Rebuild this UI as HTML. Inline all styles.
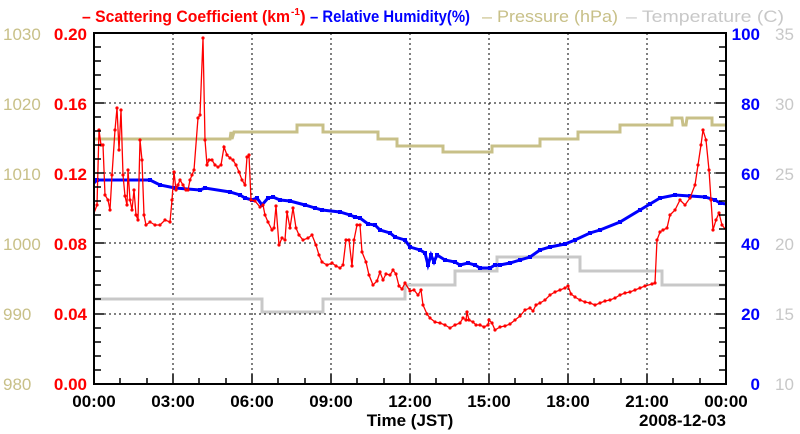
<!DOCTYPE html>
<html><head><meta charset="utf-8"><style>
html,body{margin:0;padding:0;background:#fff;}
svg{display:block;font-family:"Liberation Sans",Arial,sans-serif;}
</style></head><body>
<svg width="800" height="434" viewBox="0 0 800 434">
<defs>
<marker id="dot" markerWidth="4" markerHeight="4" refX="2" refY="2" markerUnits="userSpaceOnUse"><circle cx="2" cy="2" r="1.6" fill="#ff0000"/></marker>
<marker id="sq" markerWidth="4" markerHeight="4" refX="2" refY="2" markerUnits="userSpaceOnUse"><rect x="0" y="0" width="4" height="4" fill="#0000ff"/></marker>
</defs>
<g stroke="#000" stroke-width="1" stroke-dasharray="2,3">
<line x1="173" y1="33" x2="173" y2="384"/><line x1="252" y1="33" x2="252" y2="384"/>
<line x1="331" y1="33" x2="331" y2="384"/><line x1="410" y1="33" x2="410" y2="384"/>
<line x1="489" y1="33" x2="489" y2="384"/><line x1="568" y1="33" x2="568" y2="384"/>
<line x1="647" y1="33" x2="647" y2="384"/>
<line x1="94" y1="103" x2="726" y2="103"/><line x1="94" y1="173" x2="726" y2="173"/>
<line x1="94" y1="243" x2="726" y2="243"/><line x1="94" y1="314" x2="726" y2="314"/>
</g>
<polyline fill="none" stroke="#c8c8c8" stroke-width="3" points="94,299 262,299 262,312 323,312 323,299 405,299 405,285 455,285 455,271 497,271 497,257 580,257 580,271 662,271 662,285 726,285"/>
<polyline fill="none" stroke="#c8c088" stroke-width="3" points="94,139 230,139 231,132 232,139 234,132 297,132 297,125 323,125 323,132 378,132 378,139 397,139 397,146 443,146 443,152 492,152 492,146 540,146 540,139 578,139 578,132 620,132 620,125 672,125 672,118 682,118 683,125 686,125 687,118 712,118 712,125 726,125"/>
<polyline fill="none" stroke="#0000ff" stroke-width="3" marker-mid="url(#sq)" points="94,183 97,180 150,180 160,185 175,188 200,190 205,188 230,192 240,195 245,198 252,200 257,198 262,205 268,198 273,197 280,200 290,201 305,205 315,208 322,210 340,212 350,215 355,217 360,218 368,224 375,225 380,230 390,233 395,237 405,240 410,247 420,250 425,253 428,265 431,255 434,262 437,255 445,260 455,262 460,265 468,263 475,265 480,268 490,268 495,265 500,265 510,263 520,260 530,257 540,250 550,247 565,244 575,240 590,233 600,230 620,222 640,210 650,204 660,198 675,195 690,196 705,197 715,200 720,203 726,204"/>
<polyline fill="none" stroke="#ff0000" stroke-width="1.3" marker-mid="url(#dot)" points="94,213 97,205 99,130 101,145 103,145 105,195 108,200 110,210 112,175 115,130 117,108 119,150 121,110 123,175 125,196 127,205 128,170 130,200 132,210 134,190 136,215 138,220 140,140 142,160 144,215 146,225 150,222 155,225 160,225 165,220 170,222 172,200 174,172 176,190 178,185 180,180 183,185 186,190 188,190 190,180 192,175 194,170 198,118 200,115 203,38 205,140 207,165 209,160 212,160 215,165 218,167 221,165 224,147 227,155 230,158 233,160 236,165 239,172 242,180 245,185 247,157 249,155 251,200 255,201 260,207 263,205 265,215 268,222 272,230 274,228 276,206 279,245 282,238 285,240 287,212 290,228 293,208 296,228 299,235 303,240 308,238 312,235 316,245 319,255 322,262 327,265 332,263 336,266 340,268 343,265 346,240 349,240 352,266 354,240 357,225 360,225 362,252 366,262 369,275 373,285 377,281 380,272 383,280 386,274 390,275 393,270 396,274 399,286 402,289 405,283 410,291 414,290 418,295 421,290 423,305 427,314 430,318 435,322 440,323 445,325 450,328 455,325 460,323 463,318 466,320 467,312 469,320 473,322 476,325 480,325 484,327 488,325 489,320 492,323 495,330 500,327 505,326 510,324 515,320 520,316 525,310 530,308 533,311 536,305 540,303 545,300 550,295 555,292 560,290 565,288 568,286 571,294 575,297 580,300 585,302 590,303 595,305 600,303 605,301 610,300 615,298 620,295 625,293 630,292 635,290 640,288 645,286 652,284 655,283 657,240 660,232 663,230 667,228 670,215 675,210 680,200 685,205 690,198 695,185 698,165 701,145 703,130 706,140 709,170 711,200 713,230 716,220 719,213 722,225 726,230"/>
<rect x="94" y="33" width="632" height="351" fill="none" stroke="#000" stroke-width="2"/>
<g stroke="#000" stroke-width="1.5">
<path d="M94,47h7M94,61h7M94,75h7M94,89h7M94,103h10M94,117h7M94,131h7M94,145h7M94,159h7M94,173h10M94,187h7M94,201h7M94,215h7M94,229h7M94,243h10M94,257h7M94,271h7M94,285h7M94,299h7M94,314h10M94,328h7M94,342h7M94,356h7M94,370h7"/>
<path d="M726,47h-7M726,61h-7M726,75h-7M726,89h-7M726,103h-10M726,117h-7M726,131h-7M726,145h-7M726,159h-7M726,173h-10M726,187h-7M726,201h-7M726,215h-7M726,229h-7M726,243h-10M726,257h-7M726,271h-7M726,285h-7M726,299h-7M726,314h-10M726,328h-7M726,342h-7M726,356h-7M726,370h-7"/>
<path d="M120,384v-6M147,384v-6M173,384v-10M199,384v-6M226,384v-6M252,384v-10M278,384v-6M305,384v-6M331,384v-10M357,384v-6M384,384v-6M410,384v-10M436,384v-6M463,384v-6M489,384v-10M515,384v-6M542,384v-6M568,384v-10M594,384v-6M621,384v-6M647,384v-10M673,384v-6M700,384v-6"/>
</g>
<g font-size="17" font-weight="bold" fill="#ff0000" text-anchor="end">
<text x="87" y="40">0.20</text><text x="87" y="110">0.16</text><text x="87" y="180">0.12</text><text x="87" y="250">0.08</text><text x="87" y="320">0.04</text><text x="87" y="390">0.00</text>
</g>
<g font-size="17" fill="#c8c088" text-anchor="start">
<text x="3" y="40">1030</text><text x="3" y="110">1020</text><text x="3" y="180">1010</text><text x="3" y="250">1000</text><text x="3" y="320">990</text><text x="3" y="390">980</text>
</g>
<g font-size="17" font-weight="bold" fill="#0000ff" text-anchor="end">
<text x="760" y="40">100</text><text x="760" y="110">80</text><text x="760" y="180">60</text><text x="760" y="250">40</text><text x="760" y="320">20</text><text x="760" y="390">0</text>
</g>
<g font-size="17" fill="#c8c8c8" text-anchor="start">
<text x="775" y="40">35</text><text x="775" y="110">30</text><text x="775" y="180">25</text><text x="775" y="250">20</text><text x="775" y="320">15</text><text x="775" y="390">10</text>
</g>
<g font-size="17" font-weight="bold" fill="#000" text-anchor="middle">
<text x="94" y="407">00:00</text><text x="173" y="407">03:00</text><text x="252" y="407">06:00</text><text x="331" y="407">09:00</text><text x="410" y="407">12:00</text><text x="489" y="407">15:00</text><text x="568" y="407">18:00</text><text x="647" y="407">21:00</text><text x="726" y="407">00:00</text>
<text x="410" y="426">Time (JST)</text>
<text x="726" y="426" text-anchor="end">2008-12-03</text>
</g>
<g font-size="17" font-weight="bold" fill="#ff0000">
<text x="82" y="22" textLength="208" lengthAdjust="spacingAndGlyphs">– Scattering Coefficient (km</text>
<text x="291" y="15" font-size="10">-1</text>
<text x="300" y="22">)</text>
</g>
<g font-size="17" font-weight="bold">
<text x="310" y="22" fill="#0000ff" textLength="160" lengthAdjust="spacingAndGlyphs">– Relative Humidity(%)</text>
<text x="482" y="22" fill="#c8c088" font-weight="normal" textLength="136" lengthAdjust="spacingAndGlyphs">– Pressure (hPa)</text>
<text x="626" y="22" fill="#c8c8c8" font-weight="normal" textLength="158" lengthAdjust="spacingAndGlyphs">– Temperature (C)</text>
</g>
</svg>
</body></html>
